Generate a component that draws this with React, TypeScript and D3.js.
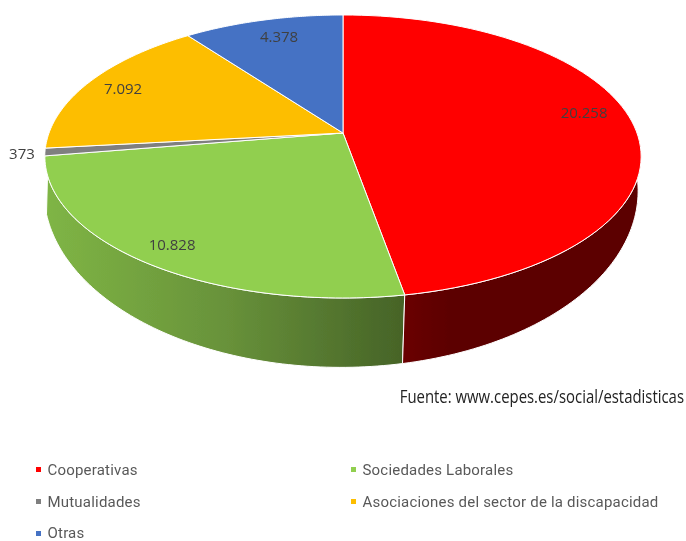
import React from "react";
import * as d3 from "d3";

const categories = ["Cooperativas", "Sociedades Laborales", "Mutualidades", "Asociaciones del sector de la discapacidad", "Otras"];
const values = [20258, 10828, 373, 7092, 4378];
const valueLabels = ["20.258", "10.828", "373", "7.092", "4.378"];
const colors = ["#ff0000", "#91cf50", "#7f7f7f", "#fdbe00", "#4472c4"];
const labelAngles = [1.404, 3.758, 4.567, 5.108, 5.978];
const labelRadii = [0.851, 0.885, 1.075, 0.855, 0.818];
const W = 686, H = 541;
const cx = 343, cy = 133, a = 294, b = 137.6, k = 0.166;
const bottomCx = 341, bottomCy = 161.5, bottomA = 293, bottomB = 171.7;

const total = d3.sum(values);
const angle = d3.scaleLinear().domain([0, total]).range([0, 2 * Math.PI]);
const cum = d3.cumsum(values);
const proj = (t: number, r = 1): [number, number] => {
  const u = Math.sin(t) * r, v = -Math.cos(t) * r;
  const w = 1 - k * v;
  return [cx + (a * u) / w, cy + (b * v) / w];
};
const projBottom = (t: number): [number, number] => {
  const u = Math.sin(t), v = -Math.cos(t);
  const w = 1 - k * v;
  return [bottomCx + (bottomA * u) / w, bottomCy + (bottomB * v) / w];
};
const samples = (t0: number, t1: number) => d3.range(0, 81).map((i) => t0 + ((t1 - t0) * i) / 80);
const line = d3.line();
const slices = values.map((_, i) => {
  const t0 = angle(i === 0 ? 0 : cum[i - 1]), t1 = angle(cum[i]);
  return { t0, t1, path: line([[cx, cy], ...samples(t0, t1).map((t) => proj(t))])! + "Z" };
});
const wall = (t0: number, t1: number) =>
  line([...samples(t0, t1).map((t) => proj(t)), ...samples(t1, t0).map((t) => projBottom(t))])! + "Z";
const rad = d3.scaleLinear().domain([0, 360]).range([0, 2 * Math.PI]);
const redWall = wall(rad(80), slices[0].t1);
const greenWall = wall(slices[0].t1, rad(253));

const legend = [
  { i: 0, x: 36, y: 470 },
  { i: 1, x: 351, y: 470 },
  { i: 2, x: 36, y: 502 },
  { i: 3, x: 351, y: 502 },
  { i: 4, x: 36, y: 533 },
];

export default function App() {
  return (
    <svg width={W} height={H} viewBox={`0 0 ${W} ${H}`} style={{ position: "absolute", left: 0, top: 0 }}>
      <defs>
        <linearGradient id="g" x1="0" x2="1" y1="0" y2="0">
          <stop offset="0" stopColor="#7fb545" />
          <stop offset="0.5" stopColor="#68923a" />
          <stop offset="1" stopColor="#466327" />
        </linearGradient>
        <linearGradient id="r" x1="0" x2="1" y1="0" y2="0">
          <stop offset="0" stopColor="#6a0000" />
          <stop offset="0.2" stopColor="#5c0000" />
          <stop offset="1" stopColor="#5c0000" />
        </linearGradient>
        <filter id="soft" x="-5%" y="-5%" width="110%" height="110%">
          <feGaussianBlur stdDeviation="0.5" />
        </filter>
      </defs>
      <g filter="url(#soft)">
        <path d={greenWall} fill="url(#g)" stroke="#fff" strokeWidth={1} strokeLinejoin="round" />
        <path d={redWall} fill="url(#r)" stroke="#fff" strokeWidth={1} strokeLinejoin="round" />
        {slices.map((s, i) => (
          <path key={i} d={s.path} fill={colors[i]} stroke="#fff" strokeWidth={1} strokeLinejoin="round" />
        ))}
        {valueLabels.map((t, i) => {
          const [x, y] = proj(labelAngles[i], labelRadii[i]);
          return (
            <text key={i} x={x} y={y} textAnchor="middle" dominantBaseline="middle"
              fontFamily="Open Sans" fontSize={15} fill="#404040">{t}</text>
          );
        })}
        <text transform="translate(684,398) scale(0.828,1)" textAnchor="end" dominantBaseline="middle"
          fontFamily="Open Sans" fontSize={18} fill="#222">
          Fuente: www.cepes.es/social/estadisticas
        </text>
        {legend.map(({ i, x, y }) => (
          <g key={i}>
            <rect x={x} y={i === 4 ? y - 2 : y - 3} width={5} height={5} fill={colors[i]} />
            <text x={x + 11.5} y={y + 1} dominantBaseline="middle" fontFamily="Roboto" fontSize={15} letterSpacing={0.2} fill="#595959">{categories[i]}</text>
          </g>
        ))}
      </g>
    </svg>
  );
}
